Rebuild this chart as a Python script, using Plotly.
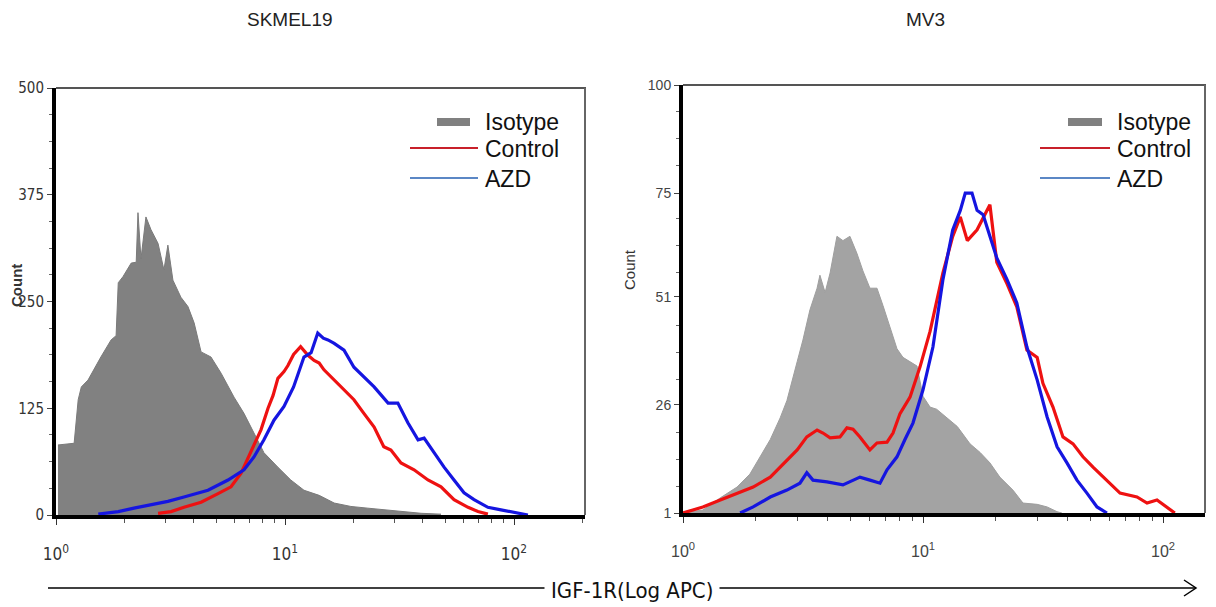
import plotly.graph_objects as go

W, H = 1216, 607

# ---- SKMEL19 histograms (x: IGF-1R APC intensity, y: count) ----
sk_iso_x = [1.02, 1.20, 1.25, 1.29, 1.38, 1.47, 1.57, 1.74, 1.83, 1.87, 1.96, 2.13, 2.24, 2.28,
            2.35, 2.47, 2.60, 2.79, 2.96, 3.08, 3.24, 3.51, 3.77, 4.01, 4.30, 4.75, 5.26, 5.99,
            6.62, 7.32, 8.09, 9.31, 10.6, 12.1, 14.1, 16.4, 19.4, 23.0, 27.6, 32.1, 39.3, 48.0]
sk_iso_y = [82, 84, 135, 150, 158, 172, 185, 205, 210, 272, 279, 295, 296, 354,
            300, 349, 334, 318, 287, 316, 275, 255, 244, 225, 191, 185, 166, 138,
            119, 96, 73, 56, 41, 29, 23, 14, 10, 8, 6, 5, 2, 1]

sk_ctrl_x = [2.79, 3.18, 3.62, 4.30, 5.10, 5.81, 6.43, 7.11, 7.86, 8.43, 8.87, 9.31, 9.90, 10.3,
             10.9, 11.7, 12.6, 13.4, 14.1, 14.8, 16.4, 18.1, 20.0, 22.1, 24.5, 27.0, 29.0, 32.1,
             36.6, 42.1, 48.0, 54.7, 63.0, 69.6, 76.9]
sk_ctrl_y = [2, 4, 9, 15, 25, 33, 49, 74, 100, 125, 140, 160, 168, 175,
             188, 197, 187, 181, 178, 170, 158, 146, 135, 119, 103, 80, 76, 61,
             53, 41, 33, 18, 9, 4, 1]

sk_azd_x = [1.53, 1.87, 2.19, 2.60, 3.08, 3.62, 4.61, 5.64, 6.62, 7.32, 8.09, 8.95, 9.90, 10.9,
            12.1, 13.0, 13.9, 14.7, 15.4, 16.4, 18.1, 20.0, 22.1, 24.5, 28.2, 31.1, 34.4, 38.1,
            40.5, 44.8, 49.5, 54.7, 60.5, 66.9, 76.9, 87.7, 104, 115]
sk_azd_y = [1, 4, 8, 12, 16, 21, 29, 41, 53, 68, 88, 111, 127, 150,
            185, 190, 213, 207, 205, 201, 193, 173, 162, 150, 131, 131, 108, 88,
            90, 73, 56, 41, 26, 18, 9, 6, 2, 0]

# ---- MV3 histograms ----
mv_iso_x = [1.00, 1.21, 1.43, 1.68, 1.90, 2.15, 2.31, 2.54, 2.71, 2.99, 3.16, 3.38, 3.62, 3.72,
            3.91, 4.10, 4.38, 4.64, 4.96, 5.31, 5.62, 6.01, 6.43, 6.81, 7.29, 7.79, 8.25, 8.83,
            9.44, 10.0, 10.7, 11.4, 12.6, 13.9, 15.7, 17.3, 19.0, 20.9, 23.7, 26.1, 29.9, 32.9,
            36.2, 37.9]
mv_iso_y = [1, 1.7, 4.5, 7, 10, 15, 18, 23, 27, 36, 41, 48, 53, 56,
            52, 56.5, 65, 64, 65, 61, 57, 53, 53, 49, 44, 39, 37, 36,
            35, 28, 25.5, 25, 23, 21, 17, 15, 12.6, 9.3, 6.3, 3.3, 3, 2.4,
            1.3, 1]

mv_ctrl_x = [1.00, 1.21, 1.43, 1.68, 1.96, 2.31, 2.71, 2.99, 3.28, 3.62, 3.83, 4.10, 4.51, 4.82,
             5.11, 5.46, 6.01, 6.43, 7.08, 7.50, 8.02, 8.83, 9.72, 10.7, 12.1, 13.3, 14.3, 15.3,
             16.8, 18.5, 19.0, 20.3, 22.4, 24.6, 27.1, 29.9, 31.6, 34.8, 38.3, 42.2, 46.4, 51.1,
             58.4, 66.2, 77.9, 85.8, 94.4, 104, 112]
mv_ctrl_y = [1, 2.4, 4, 5.6, 7, 9.3, 13.3, 15.6, 18.6, 20.2, 19.5, 18.4, 18.6, 20.7,
             20.4, 18.6, 15.6, 17.2, 17.4, 19.5, 24, 27.8, 34.8, 43, 56.5, 65, 69.5, 64,
             66.5, 71, 72.3, 59, 54, 48.7, 38.7, 37, 31, 25.5, 18.6, 17, 14, 11.6,
             8.6, 5.6, 4.7, 3.3, 4, 2.4, 1]

mv_azd_x = [1.73, 1.96, 2.31, 2.71, 3.07, 3.28, 3.48, 3.98, 4.64, 5.46, 6.01, 6.62, 7.08, 7.79,
            8.41, 9.08, 10.0, 11.0, 12.1, 13.3, 14.3, 15.0, 16.0, 16.8, 17.8, 19.0, 20.3, 22.4,
            24.6, 27.1, 29.9, 32.9, 36.2, 39.8, 43.8, 48.2, 53.1, 58.4]
mv_azd_y = [1, 2.4, 4.7, 6.3, 7.9, 10.3, 8.6, 8.2, 7.5, 9.3, 8.6, 7.9, 11, 14,
            18, 21.8, 29.5, 39.4, 54.9, 66.5, 71, 75, 75, 71, 70, 65, 60, 55,
            49.6, 39.4, 31.8, 23.2, 16.3, 12.6, 8.6, 5.6, 2.4, 1]

titles = ["SKMEL19", "MV3"]
legend_names = ["Isotype", "Control", "AZD"]
sk_yticks = [0, 125, 250, 375, 500]
mv_yticks = [1, 26, 51, 75, 100]
x_ticks = [1, 10, 100]
x_ticktext = ["10<sup>0</sup>", "10<sup>1</sup>", "10<sup>2</sup>"]
x_minor = [2, 3, 4, 5, 6, 7, 8, 9, 20, 30, 40, 50, 60, 70, 80, 90, 200]
x_title = "IGF-1R(Log APC)"

RED = "#ee1111"
BLUE = "#1515e0"


def fx(p):
    return p / W


def fy(p):
    return 1 - p / H


fig = go.Figure()

# SKMEL19 panel
fig.add_trace(go.Scatter(x=sk_iso_x, y=sk_iso_y, mode="lines", line=dict(color="#7a7a7a", width=1),
                         fill="tozeroy", fillcolor="#818181", xaxis="x", yaxis="y", showlegend=False))
fig.add_trace(go.Scatter(x=sk_ctrl_x, y=sk_ctrl_y, mode="lines", line=dict(color=RED, width=3.2),
                         xaxis="x", yaxis="y", showlegend=False))
fig.add_trace(go.Scatter(x=sk_azd_x, y=sk_azd_y, mode="lines", line=dict(color=BLUE, width=3.2),
                         xaxis="x", yaxis="y", showlegend=False))

# MV3 panel
fig.add_trace(go.Scatter(x=mv_iso_x, y=mv_iso_y, mode="lines", line=dict(color="#9e9e9e", width=1),
                         fill="tozeroy", fillcolor="#a3a3a3", xaxis="x2", yaxis="y2", showlegend=False))
fig.add_trace(go.Scatter(x=mv_ctrl_x, y=mv_ctrl_y, mode="lines", line=dict(color=RED, width=3.2),
                         xaxis="x2", yaxis="y2", showlegend=False))
fig.add_trace(go.Scatter(x=mv_azd_x, y=mv_azd_y, mode="lines", line=dict(color=BLUE, width=3.2),
                         xaxis="x2", yaxis="y2", showlegend=False))

narrow = "DejaVu Sans Condensed, Liberation Sans Narrow, Arial Narrow, sans-serif"
sans = "Liberation Sans, Arial, sans-serif"

# panel geometry in pixels: (left, right, top, bottom)
panels = [(56, 585, 88, 515), (683, 1205, 85, 513)]

common_x = dict(type="log", showgrid=False, zeroline=False, showline=True, linewidth=4, linecolor="black",
                automargin=False,
                ticks="outside", ticklen=6, tickwidth=1.2, tickcolor="#333",
                tickvals=x_ticks, ticktext=x_ticktext, ticklabelstandoff=15,
                minor=dict(tickvals=x_minor, ticks="outside", ticklen=4, tickwidth=1, tickcolor="#555"))
common_y = dict(showgrid=False, zeroline=False, showline=True, linewidth=4, linecolor="black",
                automargin=False,
                ticks="outside", ticklen=5, tickwidth=1, tickcolor="#444")

l, r, t, b = panels[0]
fig.update_layout(
    xaxis=dict(common_x, domain=[fx(l), fx(r)], range=[0, 2.31], anchor="y",
               tickfont=dict(family=narrow, size=17, color="#333")),
    yaxis=dict(common_y, domain=[fy(b), fy(t)], range=[0, 500], anchor="x",
               tickvals=sk_yticks, ticktext=[str(v) for v in sk_yticks],
               tickfont=dict(family=narrow, size=15, color="#333"),
               minor=dict(dtick=31.25, tick0=0, ticks="outside", ticklen=3, tickcolor="#666")),
)
l, r, t, b = panels[1]
fig.update_layout(
    xaxis2=dict(common_x, domain=[fx(l), fx(r)], range=[0, 2.175], anchor="y2",
                tickfont=dict(family=sans, size=16, color="#444")),
    yaxis2=dict(common_y, domain=[fy(b), fy(t)], range=[1, 100], anchor="x2",
                tickvals=mv_yticks, ticktext=[str(v) for v in mv_yticks],
                tickfont=dict(family=sans, size=14, color="#444"),
                minor=dict(tickvals=[1 + 6.1875 * k for k in range(1, 16) if k % 4],
                           ticks="outside", ticklen=3, tickcolor="#666")),
)

shapes = []
annotations = []

# thin top/right frame on each panel
for (l, r, t, b) in panels:
    shapes.append(dict(type="line", xref="paper", yref="paper", x0=fx(l), x1=fx(r + 1), y0=fy(t), y1=fy(t),
                       line=dict(color="#555", width=2)))
    shapes.append(dict(type="line", xref="paper", yref="paper", x0=fx(r), x1=fx(r), y0=fy(t), y1=fy(b),
                       line=dict(color="#666", width=2)))

# panel titles
for title, cx in zip(titles, [290, 925]):
    annotations.append(dict(text=title, x=fx(cx), y=fy(20), xref="paper", yref="paper", showarrow=False,
                            font=dict(family=sans, size=19, color="#222"), xanchor="center", yanchor="middle"))

# y-axis titles
annotations.append(dict(text="<b>Count</b>", x=fx(17), y=fy(286), xref="paper", yref="paper", showarrow=False,
                        textangle=-90, font=dict(family=sans, size=15, color="#333"),
                        xanchor="center", yanchor="middle"))
annotations.append(dict(text="Count", x=fx(630), y=fy(270), xref="paper", yref="paper", showarrow=False,
                        textangle=-90, font=dict(family=sans, size=15, color="#333"),
                        xanchor="center", yanchor="middle"))

# per-panel legends
for sw_l, sw_r, ln_l, txt_x in [(437, 470, 410, 484), (1068, 1102, 1040, 1116)]:
    shapes.append(dict(type="rect", xref="paper", yref="paper", x0=fx(sw_l), x1=fx(sw_r), y0=fy(126), y1=fy(118),
                       fillcolor="#808080", line=dict(width=0)))
    shapes.append(dict(type="line", xref="paper", yref="paper", x0=fx(ln_l), x1=fx(txt_x - 6), y0=fy(148), y1=fy(148),
                       line=dict(color="#c8202a", width=2)))
    shapes.append(dict(type="line", xref="paper", yref="paper", x0=fx(ln_l), x1=fx(txt_x - 6), y0=fy(178), y1=fy(178),
                       line=dict(color="#5b87c5", width=2)))
    for name, yy in zip(legend_names, [122, 149, 179]):
        annotations.append(dict(text=name, x=fx(txt_x - 1), y=fy(yy), xref="paper", yref="paper", showarrow=False,
                                font=dict(family=sans, size=23, color="#111"), xanchor="left", yanchor="middle"))

# shared x-axis label with arrow
shapes.append(dict(type="line", xref="paper", yref="paper", x0=fx(48), x1=fx(1196), y0=fy(588), y1=fy(588),
                   line=dict(color="black", width=1.5)))
shapes.append(dict(type="path", xref="paper", yref="paper",
                   path=f"M {fx(1184)},{fy(580)} L {fx(1196)},{fy(588)} L {fx(1184)},{fy(596)}",
                   line=dict(color="black", width=1.5)))
annotations.append(dict(text=x_title, x=fx(632), y=fy(590), xref="paper", yref="paper", showarrow=False,
                        font=dict(family=narrow, size=22, color="#111"), bgcolor="white",
                        borderpad=6, xanchor="center", yanchor="middle"))

fig.update_layout(
    width=W, height=H, margin=dict(l=0, r=0, t=0, b=0),
    paper_bgcolor="white", plot_bgcolor="white",
    shapes=shapes, annotations=annotations, showlegend=False,
)

fig.write_html("out.html")
